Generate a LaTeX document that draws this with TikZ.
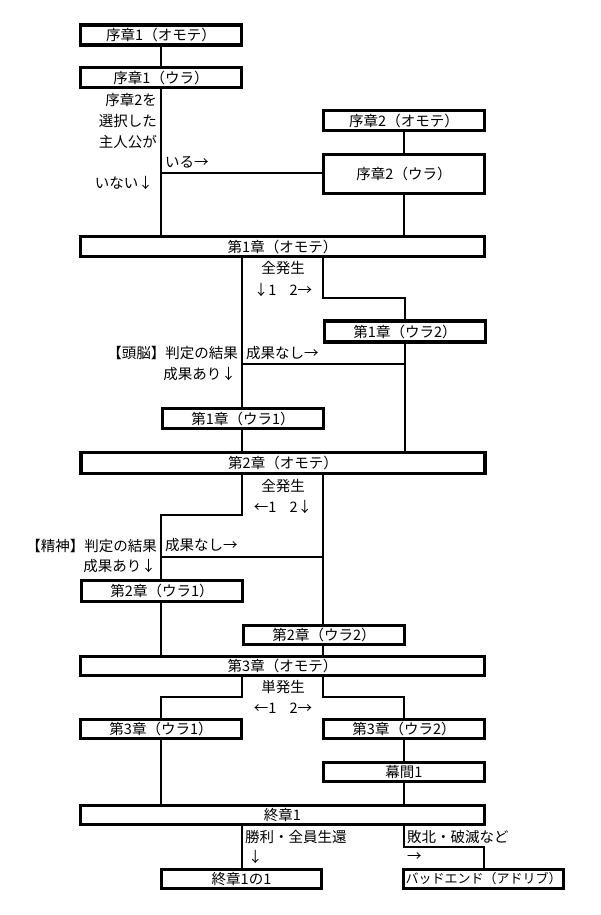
\documentclass[tikz,border=0pt]{standalone}
\usepackage{fontspec}
\setmainfont{Noto Sans CJK JP}
\begin{document}
\begin{tikzpicture}[x=1pt,y=-1pt,
 box/.style={draw,line width=3.6pt,inner sep=0pt,font=\fontsize{14.5}{16}\selectfont},
 lbl/.style={inner sep=0pt,font=\fontsize{14.5}{16}\selectfont},
 ln/.style={line width=1.5pt}]
\useasboundingbox (0,0) rectangle (600,915);
\coordinate (X1) at (161,0);
\coordinate (X2) at (242,0);
\coordinate (X3) at (323,0);
\coordinate (X4) at (404,0);
\coordinate (X5) at (484,0);
% boxes
\node[box,minimum width=161,minimum height=20] (j1o) at (161,35) {序章1（オモテ）};
\node[box,minimum width=161,minimum height=20] (j1u) at (161,77.5) {序章1（ウラ）};
\node[box,minimum width=161,minimum height=20] (j2o) at (404,120.5) {序章2（オモテ）};
\node[box,minimum width=161,minimum height=39] (j2u) at (404,174) {序章2（ウラ）};
\node[box,minimum width=404,minimum height=20] (c1o) at (282.5,246.5) {第1章（オモテ）};
\node[box,minimum width=161,minimum height=21] (c1u2) at (405,331.5) {第1章（ウラ2）};
\node[box,minimum width=161,minimum height=20] (c1u1) at (243,418.5) {第1章（ウラ1）};
\node[box,minimum width=404,minimum height=21] (c2o) at (283,463) {第2章（オモテ）};
\node[box,minimum width=161,minimum height=21] (c2u1) at (162,591) {第2章（ウラ1）};
\node[box,minimum width=161,minimum height=19] (c2u2) at (324,635) {第2章（ウラ2）};
\node[box,minimum width=404,minimum height=19] (c3o) at (282.5,666) {第3章（オモテ）};
\node[box,minimum width=161,minimum height=19] (c3u1) at (161,729) {第3章（ウラ1）};
\node[box,minimum width=161,minimum height=19] (c3u2) at (404,729) {第3章（ウラ2）};
\node[box,minimum width=161,minimum height=19] (mk) at (404,772) {幕間1};
\node[box,minimum width=404,minimum height=19] (e1) at (282.5,815) {終章1};
\node[box,minimum width=160,minimum height=19] (e11) at (241.5,879) {終章1の1};
\node[box,minimum width=160,minimum height=19,font=\fontsize{13}{14}\selectfont] (bad) at (483.5,879) {バッドエンド（アドリブ）};
% connectors
\draw[ln] (j1o) -- (j1u);
\draw[ln] (j1u) -- (j1u.south |- c1o.north);
\coordinate (br1) at (161,173);
\draw[ln] (br1) -- (j2u.west |- br1);
\draw[ln] (j2o) -- (j2u);
\draw[ln] (j2u) -- (j2u.south |- c1o.north);
\draw[ln] (c1o.south -| X2) -- (c1u1.north -| X2);
\draw[ln] (c1o.south -| X3) |- (c1u2.north |- 0,298) -- (c1u2.north);
\coordinate (br2) at (242,364);
\draw[ln] (br2) -- (c1u2.south |- br2);
\draw[ln] (c1u2.south) -- (c1u2.south |- c2o.north);
\draw[ln] (c1u1.south -| X2) -- (c2o.north -| X2);
\draw[ln] (c2o.south -| X2) -- (242,515) -| (c2u1.north -| X1);
\draw[ln] (c2o.south -| X3) -- (c2u2.north -| X3);
\coordinate (br3) at (161,557);
\draw[ln] (br3) -- (br3 -| X3);
\draw[ln] (c2u1.south -| X1) -- (c3o.north -| X1);
\draw[ln] (c2u2.south -| X3) -- (c3o.north -| X3);
\draw[ln] (c3o.south -| X2) -- (242,697) -| (c3u1.north -| X1);
\draw[ln] (c3o.south -| X3) -- (323,697) -| (c3u2.north -| X4);
\draw[ln] (c3u1.south -| X1) -- (e1.north -| X1);
\draw[ln] (c3u2) -- (mk);
\draw[ln] (mk) -- (e1.north -| X4);
\draw[ln] (e1.south -| X2) -- (e11.north -| X2);
\draw[ln] (e1.south -| X4) -- (404,847) -| (bad.north -| X5);
% labels
\node[lbl,anchor=east] (t1) at (157,100) {序章2を};
\node[lbl,anchor=east] (t2) at (157,121) {選択した};
\node[lbl,anchor=east] (t3) at (157,142) {主人公が};
\node[lbl,anchor=east] (t4) at (153,183) {いない↓};
\node[lbl,anchor=west] (t5) at (165,162) {いる→};
\node[lbl] (t6) at (283,268) {全発生};
\node[lbl] (t7) at (283,290) {↓1\hspace{0.9em}2→};
\node[lbl,anchor=east] (t8) at (238,353) {【頭脳】判定の結果};
\node[lbl,anchor=east] (t9) at (236,374) {成果あり↓};
\node[lbl,anchor=west] (t10) at (246,353) {成果なし→};
\node[lbl] (t11) at (283,486) {全発生};
\node[lbl] (t12) at (283,507) {←1\hspace{0.9em}2↓};
\node[lbl,anchor=east] (t13) at (157,546) {【精神】判定の結果};
\node[lbl,anchor=east] (t14) at (156,566) {成果あり↓};
\node[lbl,anchor=west] (t15) at (165,545) {成果なし→};
\node[lbl] (t16) at (283,687) {単発生};
\node[lbl] (t17) at (283,708) {←1\hspace{0.9em}2→};
\node[lbl,anchor=west] (t18) at (245,837) {勝利・全員生還};
\node[lbl,anchor=west] (t19) at (248,857) {↓};
\node[lbl,anchor=west] (t20) at (407,837) {敗北・破滅など};
\node[lbl,anchor=west] (t21) at (407,857) {→};
\end{tikzpicture}
\end{document}
